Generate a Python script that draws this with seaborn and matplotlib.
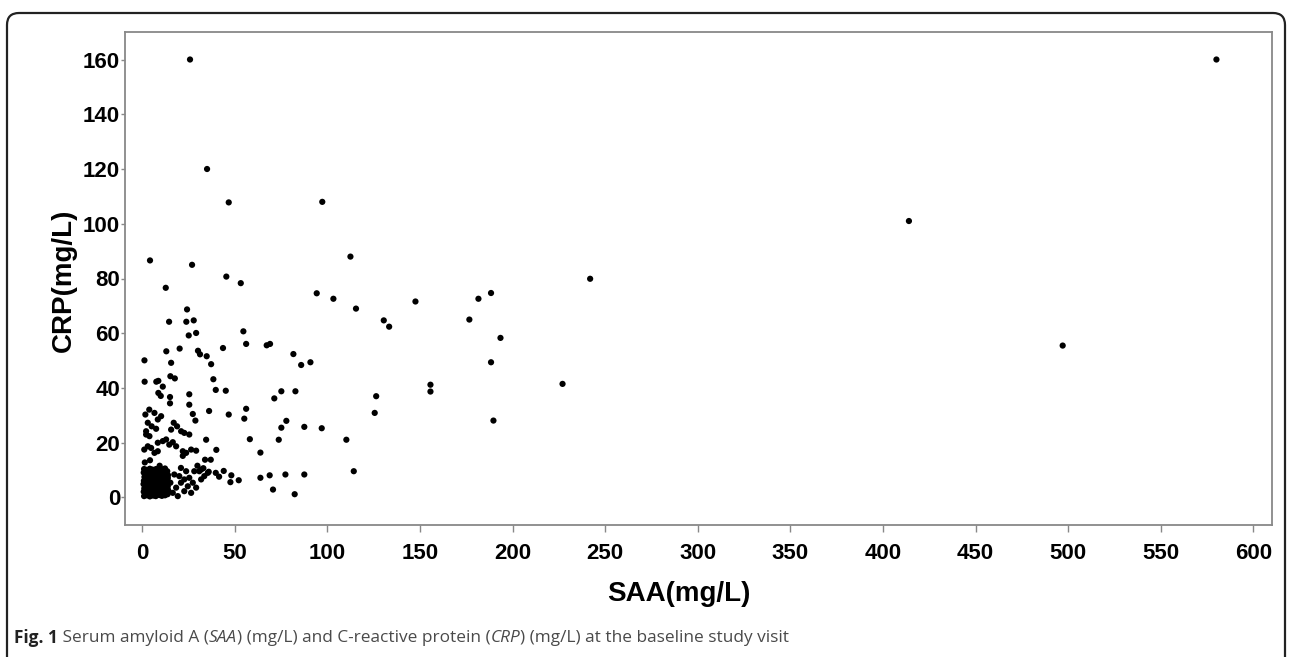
import matplotlib
matplotlib.use("Agg")
import matplotlib.pyplot as plt
import matplotlib.patches as mpatches
import matplotlib.transforms as mtransforms
import seaborn as sns
import pandas as pd

# values (SAA, CRP in mg/L)
saa_high = [25.9, 580.0, 414.0, 497.0, 35.1, 46.8, 97.3, 241.9, 227.0, 147.6, 181.6, 188.4,
            176.7, 193.5, 188.4, 155.7, 155.7, 189.7, 112.5, 94.3, 103.3, 115.5, 130.5, 133.4]
crp_high = [160.0, 160.0, 101.0, 55.5, 120.0, 107.8, 108.0, 79.9, 41.5, 71.6, 72.6, 74.7,
            65.0, 58.3, 49.4, 41.2, 38.7, 28.1, 88.0, 74.6, 72.6, 69.0, 64.7, 62.4]

saa_mid = [67.3, 69.1, 81.7, 85.9, 90.9, 75.2, 71.4, 82.8, 126.4, 125.6, 77.9, 75.2, 87.6, 97.0,
           73.8, 110.3, 63.9, 63.9, 68.9, 77.4, 87.6, 114.3, 70.7, 82.4, 58.2,
           4.3, 27.0, 45.5, 53.3, 12.8, 24.3, 14.6, 23.9, 27.9, 25.2, 29.2, 54.7, 56.2,
           1.3, 13.1, 20.3, 30.2, 31.3, 34.9, 43.7, 15.7, 37.3,
           1.4, 7.7, 8.8, 11.2, 15.3, 17.7, 38.5, 39.8, 45.2,
           8.8, 10.1, 15.1, 25.5, 15.1, 25.5, 3.9, 36.2, 46.8, 56.2, 55.2, 27.4, 28.8,
           34.6, 29.2, 34.0, 37.1, 29.9, 40.1,
           36.0, 39.8, 41.6, 44.1, 48.2, 47.7, 52.2, 31.9, 33.1, 4.3]
crp_mid = [55.6, 56.1, 52.4, 48.4, 49.4, 38.8, 36.2, 38.8, 37.0, 30.9, 28.0, 25.5, 25.8, 25.3,
           21.1, 21.1, 16.4, 7.2, 8.1, 8.4, 8.4, 9.6, 2.9, 1.2, 21.3,
           86.6, 85.0, 80.7, 78.3, 76.6, 68.7, 64.2, 64.2, 64.7, 59.2, 60.1, 60.7, 56.1,
           50.1, 53.4, 54.4, 53.6, 52.3, 51.6, 54.6, 49.2, 48.7,
           42.3, 42.3, 42.6, 40.5, 44.3, 43.5, 43.2, 39.3, 39.0,
           38.2, 37.1, 36.7, 37.7, 34.4, 33.9, 32.1, 31.6, 30.3, 32.4, 28.8, 30.5, 28.1,
           21.1, 17.1, 13.8, 13.8, 11.6, 17.4,
           9.4, 9.0, 7.6, 9.7, 8.1, 5.6, 6.3, 10.2, 10.7, 13.6]

saa_low = [1.8, 6.7, 10.3, 8.5, 3.1, 5.2, 2.2, 7.6, 2.2, 4.0, 17.1, 18.9, 15.7, 21.1, 22.8, 25.5,
           1.2, 3.1, 4.9, 8.5, 11.2, 13.0, 14.7, 16.6, 18.4, 22.0, 23.8, 26.5, 22.0, 8.5, 6.7,
           1.5, 9.5,
           21.0, 23.8, 25.5, 27.4, 24.7, 22.8, 19.3, 16.6, 15.3, 17.4, 26.5, 29.2, 31.9, 33.6,
           35.5, 30.9, 28.2, 20.1, 21.0, 18.4, 13.9, 14.2, 22.8]
crp_low = [30.3, 30.9, 29.7, 28.5, 27.3, 26.0, 24.2, 25.1, 23.0, 22.4, 27.3, 26.0, 24.8, 24.2, 23.6, 23.0,
           17.5, 18.7, 18.1, 20.0, 20.6, 21.2, 19.3, 20.2, 18.7, 16.9, 16.3, 17.5, 15.2, 16.9, 16.3,
           12.8, 11.6,
           10.8, 9.6, 7.2, 5.4, 4.1, 2.3, 0.5, 1.7, 5.4, 8.4, 1.7, 3.6, 6.6, 7.8,
           9.0, 9.6, 9.6, 7.8, 5.4, 3.6, 7.2, 2.3, 6.6]

# the solid block near the origin
saa_block = [1.1, 2.7, 4.2, 6.0, 7.4, 9.3, 10.7, 12.4, 13.8,
             0.9, 2.5, 4.4, 5.8, 7.6, 9.1, 10.9, 12.6, 14.1,
             1.2, 2.8, 4.1, 6.1, 7.3, 9.4, 10.6, 12.3, 13.9,
             0.8, 2.6, 4.5, 5.7, 7.7, 9.0, 11.0, 12.7, 14.2,
             1.0, 2.9, 4.3, 6.2, 7.5, 9.2, 10.8, 12.2, 13.7,
             1.3, 2.4, 4.0, 5.9, 7.8, 9.5, 10.5, 12.5, 14.0,
             0.9, 2.7, 4.6, 6.0, 7.2, 9.1, 11.1, 12.8, 13.6,
             1.1, 2.5, 4.2, 5.6, 7.6, 9.3, 10.9, 12.4]
crp_block = [0.5, 0.8, 0.4, 0.7, 0.5, 0.9, 0.6, 0.8, 1.2,
             2.1, 1.8, 2.2, 1.9, 2.3, 1.7, 2.0, 2.2, 2.7,
             3.3, 3.6, 3.2, 3.5, 3.4, 3.1, 3.7, 3.3, 4.1,
             4.9, 4.6, 5.0, 4.7, 4.9, 4.6, 5.0, 4.8, 5.5,
             6.1, 6.4, 6.0, 6.3, 6.1, 6.5, 6.2, 6.0, 6.8,
             7.5, 7.8, 7.4, 7.7, 7.6, 7.3, 7.9, 7.5, 8.2,
             9.1, 8.8, 9.2, 8.9, 9.3, 8.9, 9.2, 9.0, 9.6,
             10.4, 10.1, 10.5, 10.2, 10.4, 10.0, 10.3, 10.6]

x_ticks = [0, 50, 100, 150, 200, 250, 300, 350, 400, 450, 500, 550, 600]
y_ticks = [0, 20, 40, 60, 80, 100, 120, 140, 160]

df = pd.DataFrame({
    'SAA': saa_high + saa_mid + saa_low + saa_block,
    'CRP': crp_high + crp_mid + crp_low + crp_block,
})

sns.set_style("white")
plt.rcParams["font.family"] = ["Liberation Sans", "DejaVu Sans"]
plt.rcParams["text.color"] = "black"
plt.rcParams["axes.labelcolor"] = "black"
plt.rcParams["xtick.labelcolor"] = "black"
plt.rcParams["ytick.labelcolor"] = "black"

W, H = 1292, 657
fig = plt.figure(figsize=(W / 100, H / 100), dpi=100)
ax = fig.add_axes([125 / W, 1 - 525 / H, (1272 - 125) / W, (525 - 32) / H])

sns.scatterplot(data=df, x='SAA', y='CRP', ax=ax, color='black', s=20,
                edgecolor='none', linewidth=0)

ax.set_xlim(-9.2, 610)
ax.set_ylim(-10.05, 170.05)
ax.set_xticks(x_ticks)
ax.set_yticks(y_ticks)
ax.set_xticklabels([str(t) for t in x_ticks], fontsize=16, fontweight='bold')
ax.set_yticklabels([str(t) for t in y_ticks], fontsize=16, fontweight='bold')
ax.tick_params(axis='x', direction='out', length=5, width=1, color='#888888', pad=8, bottom=True)
ax.tick_params(axis='y', direction='out', length=3, width=1, color='#888888', pad=0.5, left=True)
for sp in ax.spines.values():
    sp.set_color('#888888')
    sp.set_linewidth(1.3)

ax.set_xlabel('SAA(mg/L)', fontsize=20, fontweight='bold')
ax.set_ylabel('CRP(mg/L)', fontsize=20, fontweight='bold')
ax.xaxis.set_label_coords((679 - 125) / 1147, (525 - 581) / 493)
ax.yaxis.set_label_coords((77 - 125) / 1147, (525 - 280) / 493)

# rounded frame around the figure
frame = mpatches.FancyBboxPatch((7, -40), 1278, H - 13 + 40,
                                boxstyle="round,pad=0,rounding_size=12",
                                transform=mtransforms.IdentityTransform(),
                                facecolor='none', edgecolor='#222222', linewidth=1.6)
fig.patches.append(frame)

# caption made of pieces so SAA / CRP can be italic
pieces = [("Fig. 1", 'bold', 'normal'),
          (" Serum amyloid A (", 'normal', 'normal'),
          ("SAA", 'normal', 'italic'),
          (") (mg/L) and C-reactive protein (", 'normal', 'normal'),
          ("CRP", 'normal', 'italic'),
          (") (mg/L) at the baseline study visit", 'normal', 'normal')]
renderer = fig.canvas.get_renderer()
xpos = 14 / W
for txt, weight, style in pieces:
    t = fig.text(xpos, 1 - 638 / H, txt, fontsize=12.4, fontweight=weight, fontstyle=style,
                 family=['Open Sans', 'DejaVu Sans'],
                 color='#4a4a4a' if weight == 'normal' else '#222222',
                 va='center', ha='left')
    bb = t.get_window_extent(renderer=renderer)
    xpos = bb.x1 / W

fig.savefig('out.png', dpi=100)
